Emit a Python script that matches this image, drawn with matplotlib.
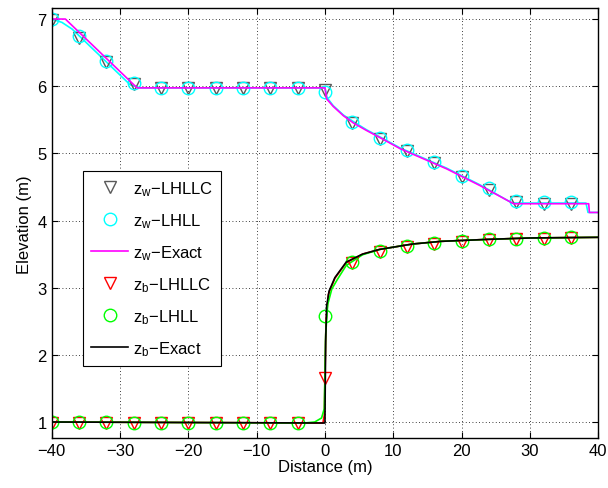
import numpy as np
import matplotlib
matplotlib.use('Agg')
import matplotlib.pyplot as plt

plt.rcParams['font.family'] = ['Liberation Sans', 'DejaVu Sans']

# marker positions (every 4 m)
x_mark = [-40, -36, -32, -28, -24, -20, -16, -12, -8, -4,
          0, 4, 8, 12, 16, 20, 24, 28, 32, 36]

# water surface, numerical schemes
zw_lhllc = [6.99, 6.72, 6.36, 6.03, 5.97, 5.97, 5.97, 5.97, 5.97, 5.97,
            5.95, 5.45, 5.21, 5.03, 4.85, 4.65, 4.46, 4.27, 4.25, 4.25]
zw_lhll = [7.0, 6.74, 6.38, 6.05, 5.975, 5.975, 5.975, 5.975, 5.975, 5.975,
           5.91, 5.47, 5.23, 5.05, 4.87, 4.67, 4.48, 4.29, 4.27, 4.27]

# bed elevation, numerical schemes
zb_lhllc = [0.99, 0.99, 0.99, 0.985, 0.985, 0.985, 0.985, 0.985, 0.985, 0.985,
            1.65, 3.37, 3.53, 3.60, 3.65, 3.68, 3.71, 3.72, 3.73, 3.74]
zb_lhll = [1.0, 0.995, 0.995, 0.99, 0.99, 0.99, 0.99, 0.99, 0.99, 0.99,
           2.58, 3.38, 3.55, 3.62, 3.66, 3.69, 3.72, 3.73, 3.74, 3.75]

# exact water surface
zw_ex_x = [-40, -38, -27.5, 0, 0.25, 1.2, 2.7, 4.2, 6.1, 8.5, 11, 17.8, 22.7, 27.6, 38.6, 38.7, 40]
zw_ex = [7.0, 7.0, 5.975, 5.975, 5.81, 5.7, 5.56, 5.45, 5.34, 5.21, 5.07, 4.77, 4.52, 4.25, 4.25, 4.12, 4.12]

# LHLL water surface line (full resolution)
zw_ll_x = [-40, -38.5, -37, -28.5, -27, 0, 0.3, 1.2, 2.7, 4.2, 6.1, 8.5, 11, 17.8, 22.7, 27.4, 38.2, 38.5, 40]
zw_ll = [7.0, 6.95, 6.85, 6.02, 5.975, 5.975, 5.83, 5.71, 5.57, 5.47, 5.35, 5.22, 5.08, 4.78, 4.53, 4.26, 4.26, 4.12, 4.12]

# exact bed
zb_ex_x = [-40, 0, 0.02, 0.1, 0.25, 0.6, 1.45, 3.1, 5.5, 8, 12.8, 17, 24, 30, 40]
zb_ex = [1.0, 0.985, 1.3, 2.2, 2.73, 2.95, 3.15, 3.38, 3.50, 3.57, 3.65, 3.69, 3.72, 3.74, 3.75]

# LHLL bed line
zb_ll_x = [-40, -3, -1.5, -0.5, -0.1, 0.1, 0.4, 1.0, 1.8, 3.1, 5.5, 8, 12.8, 17, 24, 30, 40]
zb_ll = [1.0, 0.985, 1.0, 1.06, 1.2, 2.3, 2.75, 2.98, 3.12, 3.33, 3.49, 3.57, 3.65, 3.69, 3.72, 3.74, 3.75]

# LHLLC bed line
zb_lc_x = [-40, -0.3, -0.1, 0.0, 0.15, 0.5, 1.45, 3.1, 5.5, 8, 12.8, 17, 24, 30, 40]
zb_lc = [1.0, 0.985, 1.1, 1.65, 2.5, 2.9, 3.14, 3.37, 3.50, 3.57, 3.65, 3.69, 3.72, 3.74, 3.75]

fig = plt.figure(figsize=(6.08, 4.89), dpi=100)
ax = fig.add_axes([0.085, 0.102, 0.899, 0.879])

gray = (0.35, 0.35, 0.35)

# full lines of numerical solutions (no legend)
ax.plot(zw_ll_x, zw_ll, color='cyan', lw=1.2)
ax.plot(zb_lc_x, zb_lc, color='red', lw=1.2)
ax.plot(zb_ll_x, zb_ll, color=(0, 1, 0), lw=1.2)

# legend entries
h1, = ax.plot(x_mark, zw_lhllc, 'v', mfc='none', mec=gray, ms=9, mew=1)
h2, = ax.plot(x_mark, zw_lhll, 'o', mfc='none', mec='cyan', ms=9, mew=1)
h3, = ax.plot(zw_ex_x, zw_ex, color='magenta', lw=1.2)
h4, = ax.plot(x_mark, zb_lhllc, 'v', mfc='none', mec='red', ms=9, mew=1)
h5, = ax.plot(x_mark, zb_lhll, 'o', mfc='none', mec=(0, 1, 0), ms=9, mew=1)
h6, = ax.plot(zb_ex_x, zb_ex, color='black', lw=1.2)

labels = [r'$\mathregular{z_w}$−LHLLC', r'$\mathregular{z_w}$−LHLL', r'$\mathregular{z_w}$−Exact',
          r'$\mathregular{z_b}$−LHLLC', r'$\mathregular{z_b}$−LHLL', r'$\mathregular{z_b}$−Exact']
leg = ax.legend([h1, h2, h3, h4, h5, h6], labels, loc='upper left',
                bbox_to_anchor=(0.057, 0.622), borderaxespad=0, fontsize=12,
                frameon=True, fancybox=False, edgecolor='black', framealpha=1,
                labelspacing=0.8, handlelength=2.2, handletextpad=0.3, borderpad=0.5)
leg.get_frame().set_linewidth(0.8)

ax.set_xlim(-40, 40)
ax.set_ylim(0.76, 7.16)
ax.set_xticks(np.arange(-40, 41, 10))
ax.set_yticks(np.arange(1, 8, 1))
ax.grid(True, linestyle=(0, (1, 3)), color='black', lw=0.6)
ax.tick_params(direction='in', top=True, right=True, labelsize=12, length=4)
ax.set_xlabel('Distance (m)', fontsize=12, labelpad=1)
ax.set_ylabel('Elevation (m)', fontsize=12, labelpad=4)
for s in ax.spines.values():
    s.set_linewidth(1.0)

fig.savefig('out.png', dpi=100)
